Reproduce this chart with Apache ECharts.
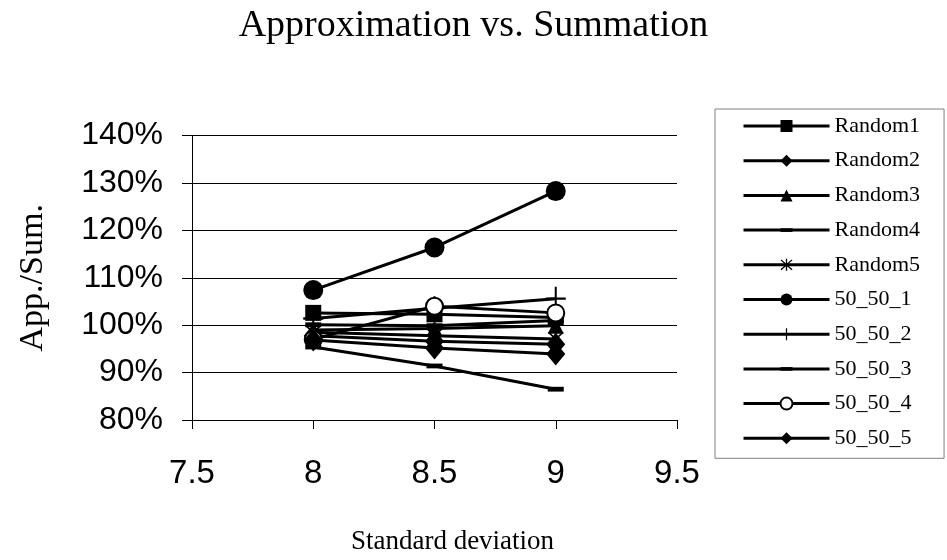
<!DOCTYPE html>
<html>
<head>
<meta charset="utf-8">
<script src="https://cdn.jsdelivr.net/npm/echarts@6/dist/echarts.min.js"></script>
<style>
	html, body { margin: 0; padding: 0; background: #fff; }
	#chart { width: 947px; height: 560px; }
</style>
</head>
<body>
<div id="chart"></div>
<script>
// x 值：标准差
const stdDev = [8, 8.5, 9];
// 各序列 App./Sum.（百分比）
const random1 = [102.6, 102.3, 101.6];
const random2 = [97.8, 96.6, 96.0];
const random3 = [99.0, 99.3, 99.9];
const random4 = [100.1, 99.9, 101.0];
const random5 = [98.5, 97.8, 97.1];
const s50_1 = [107.4, 116.4, 128.3];
const s50_2 = [101.4, 103.6, 105.6];
const s50_3 = [95.4, 91.4, 86.5];
const s50_4 = [97.0, 104.0, 102.6];
const s50_5 = [96.9, 95.2, 93.9];

const seriesNames = ["Random1", "Random2", "Random3", "Random4", "Random5", "50_50_1", "50_50_2", "50_50_3", "50_50_4", "50_50_5"];
const seriesValues = [random1, random2, random3, random4, random5, s50_1, s50_2, s50_3, s50_4, s50_5];

// 标记形状
const dashPath = "path://M0,0L0,0M20,20L20,20M0,7h20v6h-20z";
const plusPath = "path://M9,0h2v20h-2z M0,9h20v2h-20z";
const starPath = "path://M9,0h2v20h-2z M1,2.4L2.4,1L19,17.6L17.6,19z M17.6,1L19,2.4L2.4,19L1,17.6z";
const markers = [
	{ symbol: "rect", size: 16 },
	{ symbol: "diamond", size: [19, 23] },
	{ symbol: "triangle", size: 16 },
	{ symbol: dashPath, size: 16 },
	{ symbol: starPath, size: 16 },
	{ symbol: "circle", size: 20 },
	{ symbol: plusPath, size: [20, 24] },
	{ symbol: dashPath, size: 16 },
	{ symbol: "emptyCircle", size: 17 },
	{ symbol: "diamond", size: [19, 23] }
];

const serif = "'Liberation Serif', 'Times New Roman', serif";
const sans = "'Liberation Sans', Arial, sans-serif";

const series = seriesNames.map((name, i) => ({
	name: name,
	type: "line",
	symbol: markers[i].symbol,
	symbolSize: markers[i].size,
	showAllSymbol: true,
	lineStyle: { color: "#000", width: 3 },
	itemStyle: { color: "#000", borderColor: "#000", borderWidth: markers[i].symbol === "emptyCircle" ? 3 : 0 },
	data: stdDev.map((x, j) => [x, seriesValues[i][j]])
}));

const myChart = echarts.init(document.getElementById("chart"));
myChart.setOption({
	animation: false,
	backgroundColor: "#fff",
	title: {
		text: "Approximation vs. Summation",
		left: "center",
		top: 2,
		textStyle: { fontFamily: serif, fontSize: 38, fontWeight: "normal", color: "#000" }
	},
	legend: {
		orient: "vertical",
		left: 715,
		top: 109,
		padding: [6, 24, 9, 27],
		itemWidth: 86,
		itemHeight: 15,
		itemGap: 12.7,
		borderColor: "#808080",
		borderWidth: 1,
		lineStyle: { color: "#000", width: 3 },
		textStyle: { fontFamily: serif, fontSize: 22, lineHeight: 20, color: "#000" },
		data: seriesNames
	},
	grid: {
		left: 192,
		right: 270,
		top: 135.6,
		bottom: 137.5,
		containLabel: false
	},
	xAxis: {
		type: "value",
		min: 7.5,
		max: 9.5,
		interval: 0.5,
		name: "Standard deviation",
		nameLocation: "middle",
		nameGap: 108,
		nameTextStyle: { fontFamily: serif, fontSize: 27, color: "#000", padding: [0, 0, 0, 36] },
		axisLine: { show: true, lineStyle: { color: "#000", width: 1 } },
		axisTick: { show: true, inside: false, length: 9, lineStyle: { color: "#000" } },
		axisLabel: { margin: 37, fontFamily: sans, fontSize: 33, color: "#000" },
		splitLine: { show: false }
	},
	yAxis: {
		type: "value",
		min: 80,
		max: 140,
		interval: 10,
		name: "App./Sum.",
		nameLocation: "middle",
		nameGap: 142,
		nameTextStyle: { fontFamily: serif, fontSize: 34, color: "#000" },
		axisLine: { show: true, lineStyle: { color: "#000", width: 1 } },
		axisTick: { show: true, inside: false, length: 10, lineStyle: { color: "#000" } },
		axisLabel: { margin: 29, fontFamily: sans, fontSize: 32, color: "#000", formatter: "{value}%" },
		splitLine: { show: true, lineStyle: { color: "#000", width: 1 } }
	},
	series: series
});
</script>
</body>
</html>
